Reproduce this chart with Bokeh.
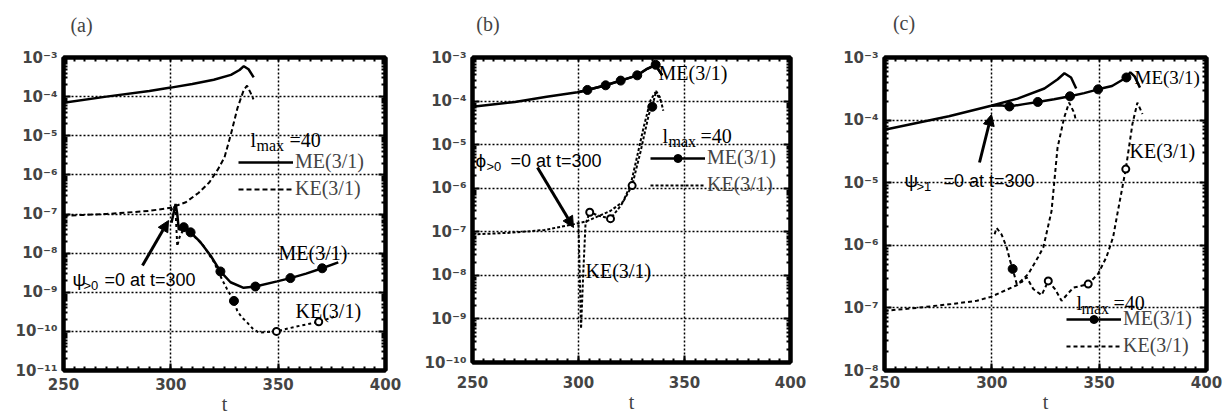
from bokeh.plotting import figure
from bokeh.layouts import row
from bokeh.models import (Range1d, FixedTicker, LinearAxis, LogAxis, Label,
                          Arrow, NormalHead, Legend, LegendItem)
from bokeh.embed import file_html
from bokeh.resources import INLINE

# ---------------- data ----------------
X_TICKS = [250, 300, 350, 400]
X_TICK_LABELS = ["250", "300", "350", "400"]
X_MINOR = list(range(250, 401, 5))

Y_EXP_A = [-11, -10, -9, -8, -7, -6, -5, -4, -3]
Y_EXP_B = [-10, -9, -8, -7, -6, -5, -4, -3]
Y_EXP_C = [-8, -7, -6, -5, -4, -3]

PANEL_LETTERS = ["(a)", "(b)", "(c)"]

# panel (a): psi_{>0}=0 at t=300
A_ME_T = [250, 270, 290, 300, 310, 320, 328, 332, 334, 336.2, 338.6]
A_ME_V = [7.0e-5, 1.0e-4, 1.4e-4, 1.7e-4, 2.1e-4, 2.7e-4, 3.6e-4, 4.8e-4, 6.0e-4, 5.0e-4, 3.1e-4]
A_KE_T = [250, 270, 290, 300, 307, 313, 318, 322, 325, 328, 331, 334, 335.5, 337, 338.5]
A_KE_V = [9.0e-8, 1.0e-7, 1.2e-7, 1.45e-7, 2.0e-7, 3.5e-7, 6.5e-7, 1.4e-6, 2.8e-6, 1.1e-5, 5.0e-5, 1.5e-4, 1.9e-4, 1.3e-4, 8.5e-5]
A_MEM_T = [300.3, 301.5, 302.2, 303.0, 303.7, 306.0, 309.2, 313.8, 318.5, 323.1, 327.8, 333.9, 339.4, 349.5, 355.7, 363.0, 370.5, 378.0]
A_MEM_V = [6.0e-8, 1.2e-7, 1.8e-7, 1.0e-7, 4.0e-8, 4.6e-8, 3.4e-8, 1.9e-8, 8.7e-9, 3.4e-9, 1.8e-9, 1.3e-9, 1.4e-9, 1.9e-9, 2.3e-9, 3.0e-9, 4.1e-9, 5.8e-9]
A_KEM_T = [300.0, 301.3, 302.2, 303.0, 304.0, 306.0, 310.0, 315.0, 320.0, 323.9, 326.2, 329.4, 330.9, 333.0, 335.5, 338.0, 341.0, 349.2, 355.0, 360.4, 368.9, 377.5]
A_KEM_V = [1.2e-7, 1.6e-7, 1.2e-7, 1.5e-8, 2.5e-8, 4.2e-8, 3.0e-8, 1.6e-8, 6.0e-9, 2.1e-9, 1.2e-9, 6.0e-10, 3.4e-10, 2.3e-10, 1.7e-10, 1.2e-10, 9.3e-11, 1.0e-10, 1.2e-10, 1.4e-10, 1.75e-10, 2.5e-10]
A_DOT_T = [306.0, 309.2, 323.1, 339.4, 355.7, 370.5, 329.4]
A_DOT_V = [4.6e-8, 3.4e-8, 3.4e-9, 1.4e-9, 2.3e-9, 4.1e-9, 6.0e-10]
A_OPEN_T = [349.2, 368.9]
A_OPEN_V = [1.0e-10, 1.75e-10]

# panel (b): phi_{>0}=0 at t=300
B_ME_T = [250, 270, 285, 299.5, 304.2, 312.8, 319.9, 327.7, 332.4, 336.4, 338.0, 339.5]
B_ME_V = [7.4e-5, 9.5e-5, 1.25e-4, 1.6e-4, 1.8e-4, 2.3e-4, 2.95e-4, 3.9e-4, 5.5e-4, 6.8e-4, 5.0e-4, 3.9e-4]
B_MEM_T = [300.0, 304.2, 312.8, 319.9, 327.7, 332.4, 336.4, 338.0, 339.5]
B_MEM_V = [1.6e-4, 1.8e-4, 2.3e-4, 2.95e-4, 3.9e-4, 5.5e-4, 6.8e-4, 5.0e-4, 3.9e-4]
B_KE_T = [250, 268, 284, 298, 304, 315, 321, 324.6, 327.7, 330.8, 334, 336.3, 338.7]
B_KE_V = [8.7e-8, 9.5e-8, 1.1e-7, 1.5e-7, 1.75e-7, 3.0e-7, 4.9e-7, 1.2e-6, 5.5e-6, 2.6e-5, 1.05e-4, 1.6e-4, 1.05e-4]
B_KEM_T = [300.0, 300.6, 301.2, 302.2, 303.3, 305.3, 310.0, 315.1, 320.0, 325.3, 329.3, 333.2, 334.8, 336.6, 338.5, 340.0]
B_KEM_V = [1.45e-7, 1.0e-8, 6.0e-10, 1.0e-8, 1.5e-7, 2.8e-7, 2.3e-7, 2.0e-7, 4.0e-7, 1.15e-6, 7.0e-6, 5.0e-5, 7.4e-5, 1.7e-4, 1.2e-4, 6.0e-5]
B_DOT_T = [304.2, 312.8, 319.9, 327.7, 336.4, 334.8]
B_DOT_V = [1.8e-4, 2.3e-4, 2.95e-4, 3.9e-4, 6.8e-4, 7.4e-5]
B_OPEN_T = [305.3, 315.1, 325.3]
B_OPEN_V = [2.8e-7, 2.0e-7, 1.15e-6]

# panel (c): psi_{>1}=0 at t=300
C_ME_T = [250, 265, 280, 299.7, 312, 324.5, 330.7, 333.8, 336.9, 339.3]
C_ME_V = [7.0e-5, 9.0e-5, 1.15e-4, 1.7e-4, 2.2e-4, 3.2e-4, 4.5e-4, 5.6e-4, 4.8e-4, 3.2e-4]
C_MEM_T = [300.0, 304.0, 308.2, 315.0, 321.4, 329.0, 336.4, 343.0, 349.5, 356.0, 362.7, 364.5, 366.5, 369.0]
C_MEM_V = [1.7e-4, 1.72e-4, 1.65e-4, 1.8e-4, 1.95e-4, 2.15e-4, 2.4e-4, 2.7e-4, 3.1e-4, 3.5e-4, 4.8e-4, 5.8e-4, 5.0e-4, 3.3e-4]
C_KE_T = [250, 265, 281, 293, 299.5, 311.6, 317.0, 321.6, 324.0, 327.8, 330.6, 333.7, 336.0, 338.4, 339.1]
C_KE_V = [9.0e-8, 1.0e-7, 1.15e-7, 1.3e-7, 1.5e-7, 2.3e-7, 3.5e-7, 6.5e-7, 9.3e-7, 3.5e-6, 3.6e-5, 1.1e-4, 1.9e-4, 1.3e-4, 1.0e-4]
C_KEM_T = [301.3, 302.2, 304.5, 306.9, 308.5, 309.7, 311.6, 314.0, 316.2, 319.3, 323.2, 326.3, 329.4, 332.5, 337.9, 344.9, 349.5, 353.4, 356.5, 358.5, 362.4, 365.5, 367.8, 370.2]
C_KEM_V = [1.5e-6, 1.9e-6, 1.5e-6, 9.3e-7, 5.7e-7, 4.2e-7, 2.4e-7, 2.6e-7, 3.1e-7, 2.0e-7, 1.6e-7, 2.7e-7, 2.0e-7, 1.3e-7, 2.1e-7, 2.4e-7, 3.5e-7, 6.5e-7, 1.35e-6, 3.2e-6, 1.65e-5, 8.7e-5, 1.9e-4, 1.25e-4]
C_DOT_T = [308.2, 321.4, 336.4, 349.5, 362.7, 309.7]
C_DOT_V = [1.65e-4, 1.95e-4, 2.4e-4, 3.1e-4, 4.8e-4, 4.2e-7]
C_OPEN_T = [326.3, 344.9, 362.4]
C_OPEN_V = [2.7e-7, 2.4e-7, 1.65e-5]

SUP = str.maketrans("-0123456789", "⁻⁰¹²³⁴⁵⁶⁷⁸⁹")
SERIF = "Liberation Serif"
SANS = "Liberation Sans"


def make_panel(letter, letter_t, letter_gap, exps, fw, fh, borders, xlabel_standoff):
    lo, hi = float(f"1e{exps[0]}"), float(f"1e{exps[-1]}")
    bl, br, bt, bb = borders
    p = figure(frame_width=fw, frame_height=fh, y_axis_type="log",
               x_range=Range1d(250, 400), y_range=Range1d(lo, hi),
               output_backend="svg", toolbar_location=None, title=None,
               min_border_left=bl, min_border_right=br,
               min_border_top=bt, min_border_bottom=bb,
               background_fill_color="white", border_fill_color="white")
    p.outline_line_color = "black"
    p.outline_line_width = 4

    yt = [float(f"1e{e}") for e in exps]
    ylabels = {float(f"1e{e}"): "10" + str(e).translate(SUP) for e in exps}
    yminor = [m * float(f"1e{e}") for e in exps[:-1] for m in range(2, 10)]

    def style(ax):
        ax.axis_line_width = 4
        ax.axis_line_color = "black"
        ax.major_tick_in = 7
        ax.major_tick_out = 0
        ax.minor_tick_in = 4
        ax.minor_tick_out = 0
        ax.major_tick_line_width = 2
        ax.minor_tick_line_width = 2
        ax.major_tick_line_color = "black"
        ax.minor_tick_line_color = "black"

    bx = p.below[0]
    bx.ticker = FixedTicker(ticks=X_TICKS, minor_ticks=X_MINOR)
    bx.major_label_overrides = dict(zip(X_TICKS, X_TICK_LABELS))
    bx.major_label_text_font = "DejaVu Sans"
    bx.major_label_text_font_style = "bold"
    bx.major_label_text_font_size = "15px"
    bx.major_label_standoff = xlabel_standoff
    bx.axis_label = "t"
    bx.axis_label_text_font = SERIF
    bx.axis_label_text_font_size = "20px"
    bx.axis_label_text_font_style = "normal"
    bx.axis_label_standoff = 0
    style(bx)

    ly = p.left[0]
    ly.ticker = FixedTicker(ticks=yt, minor_ticks=yminor)
    ly.major_label_overrides = ylabels
    ly.major_label_text_font = "DejaVu Sans"
    ly.major_label_text_font_style = "bold"
    ly.major_label_text_font_size = "15px"
    ly.major_label_standoff = 6
    style(ly)

    # top frame edge: inward ticks, carries the panel letter as its only label
    top = LinearAxis(ticker=FixedTicker(ticks=[letter_t], minor_ticks=X_MINOR),
                     major_label_overrides={letter_t: letter},
                     major_label_standoff=letter_gap,
                     major_label_text_font=SERIF,
                     major_label_text_font_size="20px",
                     major_label_text_font_style="normal")
    style(top)
    top.major_tick_in = 0
    p.add_layout(top, "above")
    right = LogAxis(ticker=FixedTicker(ticks=yt, minor_ticks=yminor),
                    major_label_overrides={t: "" for t in yt},
                    major_label_standoff=0)
    style(right)
    p.add_layout(right, "right")

    for g in (p.xgrid[0], p.ygrid[0]):
        g.grid_line_color = "black"
        g.grid_line_dash = "2 2"
        g.grid_line_width = 1.5
    p.xgrid[0].ticker = FixedTicker(ticks=X_TICKS)
    p.ygrid[0].ticker = FixedTicker(ticks=yt)
    return p


def at(g, px, py):
    fl, fr, ft, fb, et, eb = g
    t = 250 + (px - fl) * 150.0 / (fr - fl)
    e = et - (py - ft) * (et - eb) / (fb - ft)
    return t, 10 ** e


def text(p, g, px, py, s, size="20px", font=SERIF):
    x, y = at(g, px, py)
    p.add_layout(Label(x=x, y=y, text=s, text_font=font, text_font_size=size,
                       text_baseline="middle", text_align="left",
                       text_color="black"))


def arrow(p, g, p0, p1):
    x0, y0 = at(g, *p0)
    x1, y1 = at(g, *p1)
    p.add_layout(Arrow(end=NormalHead(size=11, fill_color="black", line_color="black"),
                       x_start=x0, y_start=y0, x_end=x1, y_end=y1,
                       line_width=3, line_color="black"))


def legend(p, items, loc):
    lg = Legend(items=items, location=loc, padding=0, margin=0, spacing=4,
                glyph_width=55, glyph_height=20, label_height=20,
                label_standoff=2, label_text_font=SERIF,
                label_text_font_size="20px", background_fill_alpha=0,
                border_line_alpha=0)
    p.add_layout(lg)


def lmax(p, g, pl, pm, pe, y):
    text(p, g, pl, y, "l")
    text(p, g, pm, y + 6, "max", size="16px")
    text(p, g, pe, y, "=40")


def sub_note(p, g, x_sym, x_sub, x_rest, y, sym, sub):
    text(p, g, x_sym, y, sym, size="19px", font=SANS)
    text(p, g, x_sub, y + 6, sub, size="13px", font=SANS)
    text(p, g, x_rest, y, "=0 at t=300", size="18px", font=SANS)


# ---------------- panel (a) ----------------
GA = (63, 385, 55, 368, -3, -11)
pa = make_panel(PANEL_LETTERS[0], 258.4, 22, Y_EXP_A, 322, 313, (63, 25, 55, 46), 7)
a_me = pa.line(A_ME_T, A_ME_V, line_color="black", line_width=2.5)
a_ke = pa.line(A_KE_T, A_KE_V, line_color="black", line_width=2, line_dash="5 3")
pa.line(A_MEM_T, A_MEM_V, line_color="black", line_width=2.5)
pa.line(A_KEM_T, A_KEM_V, line_color="black", line_width=2, line_dash="3 3")
pa.scatter(A_DOT_T, A_DOT_V, size=9, color="black")
pa.scatter(A_OPEN_T, A_OPEN_V, size=7, fill_color="white", line_color="black", line_width=2)
legend(pa, [LegendItem(label="ME(3/1)", renderers=[a_me]),
            LegendItem(label="KE(3/1)", renderers=[a_ke])], (175, 170))
lmax(pa, GA, 250, 256, 289, 137)
text(pa, GA, 278, 250, "ME(3/1)")
text(pa, GA, 295, 308, "KE(3/1)")
sub_note(pa, GA, 72, 83, 104, 277, "ψ", ">0")
arrow(pa, GA, (142, 263), (168, 218))

# ---------------- panel (b) ----------------
GB = (472, 790, 57, 362, -3, -10)
pb = make_panel(PANEL_LETTERS[1], 257.3, 23, Y_EXP_B, 318, 305, (62, 20, 57, 52), 13)
pb.line(B_ME_T, B_ME_V, line_color="black", line_width=2.5)
b_mem = pb.line(B_MEM_T, B_MEM_V, line_color="black", line_width=2.5)
pb.line(B_KE_T, B_KE_V, line_color="black", line_width=2, line_dash="3 2")
b_kem = pb.line(B_KEM_T, B_KEM_V, line_color="black", line_width=2, line_dash="3 2")
b_dot = pb.scatter(B_DOT_T, B_DOT_V, size=9, color="black")
pb.scatter(B_OPEN_T, B_OPEN_V, size=7, fill_color="white", line_color="black", line_width=2)
legend(pb, [LegendItem(label="ME(3/1)", renderers=[b_mem, b_dot]),
            LegendItem(label="KE(3/1)", renderers=[b_kem])], (178, 166))
lmax(pb, GB, 662, 668, 700, 135)
text(pb, GB, 658, 72, "ME(3/1)")
text(pb, GB, 585, 270, "KE(3/1)")
sub_note(pb, GB, 475, 486, 510, 160, "ϕ", ">0")
arrow(pb, GB, (537, 167), (573, 227))

# ---------------- panel (c) ----------------
GC = (884, 1206, 50, 363, -3, -8)
pc = make_panel(PANEL_LETTERS[2], 259.1, 24, Y_EXP_C, 322, 313, (74, 18, 50, 51), 5)
pc.line(C_ME_T, C_ME_V, line_color="black", line_width=2.5)
c_mem = pc.line(C_MEM_T, C_MEM_V, line_color="black", line_width=2.5)
pc.line(C_KE_T, C_KE_V, line_color="black", line_width=2, line_dash="4 3")
c_kem = pc.line(C_KEM_T, C_KEM_V, line_color="black", line_width=2, line_dash="4 3")
c_dot = pc.scatter(C_DOT_T, C_DOT_V, size=9, color="black")
pc.scatter(C_OPEN_T, C_OPEN_V, size=7, fill_color="white", line_color="black", line_width=2)
legend(pc, [LegendItem(label="ME(3/1)", renderers=[c_mem, c_dot]),
            LegendItem(label="KE(3/1)", renderers=[c_kem])], (182, 13))
lmax(pc, GC, 1076, 1081, 1113, 295)
text(pc, GC, 1134, 70, "ME(3/1)", size="19px")
text(pc, GC, 1129, 143, "KE(3/1)")
sub_note(pc, GC, 904, 916, 943, 173, "ψ", ">1")
arrow(pc, GC, (979, 155), (991, 107))

layout = row(pa, pb, pc)
open("out.html", "w").write(file_html(layout, INLINE))
